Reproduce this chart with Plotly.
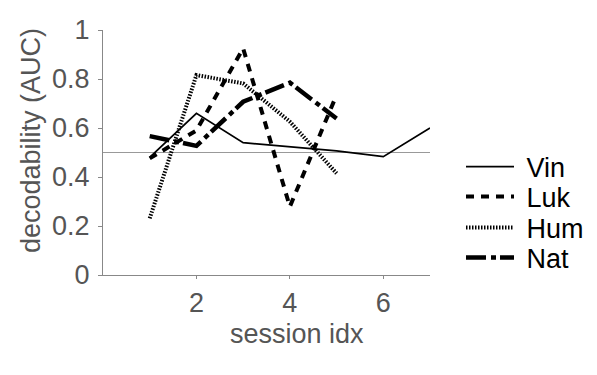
import plotly.graph_objects as go

sessions_vin = [1, 2, 3, 4, 5, 6, 7]
vin = [0.48, 0.66, 0.54, 0.525, 0.507, 0.483, 0.60]
sessions_5 = [1, 2, 3, 4, 5]
luk = [0.476, 0.59, 0.925, 0.279, 0.735]
hum = [0.231, 0.816, 0.782, 0.626, 0.415]
nat = [0.567, 0.527, 0.707, 0.785, 0.639]
chance = 0.5
y_ticks = [0, 0.2, 0.4, 0.6, 0.8, 1]
y_ticktext = ["0", "0.2", "0.4", "0.6", "0.8", "1"]
x_ticks = [2, 4, 6]
names = ["Vin", "Luk", "Hum", "Nat"]

FONT = "Liberation Sans, Arial, sans-serif"
GRAY = "#555555"
FS = 27
PAD = "\u00a0"

# page is offset by the browser's 8px body margin
OFF = 8
W, H = 597 - OFF, 375 - OFF
L, R, T, B = 95, 167, 22, 100
PW, PH = W - L - R, H - T - B


def px_to_paper(xp, yp):
    return (xp - OFF - L) / PW, (H - B - (yp - OFF)) / PH


fig = go.Figure()
fig.add_trace(go.Scatter(x=sessions_vin, y=vin, name=PAD + names[0], mode="lines",
                         line=dict(color="black", width=1.8), legend="legend"))
fig.add_trace(go.Scatter(x=sessions_5, y=luk, name=PAD + names[1], mode="lines",
                         line=dict(color="black", width=4, dash="8px,7px"), legend="legend2"))
fig.add_trace(go.Scatter(x=sessions_5, y=hum, name=PAD + names[2], mode="lines",
                         line=dict(color="black", width=4, dash="1.5px,1.5px"), legend="legend3"))
fig.add_trace(go.Scatter(x=sessions_5, y=nat, name=PAD + names[3], mode="lines",
                         line=dict(color="black", width=4.5, dash="20px,5px,5px,4px"), legend="legend4"))

fig.add_shape(type="line", xref="x", yref="y", x0=0, x1=7, y0=chance, y1=chance,
              line=dict(color="#999999", width=1.2), layer="below")

leg_y = [167, 197, 228, 258]
legends = {}
for i, yp in enumerate(leg_y):
    lx, ly = px_to_paper(461, yp)
    legends["legend" if i == 0 else f"legend{i+1}"] = dict(
        x=lx, y=ly, xanchor="left", yanchor="middle",
        font=dict(family=FONT, size=FS, color="black"),
        bgcolor="rgba(0,0,0,0)", itemwidth=48)

annos = []
for text, xp, yp, ang in [("session idx", 297, 334, 0), ("decodability (AUC)", 31, 141, -90)]:
    ax, ay = px_to_paper(xp, yp)
    annos.append(dict(text=text, x=ax, y=ay, xref="paper", yref="paper",
                      xanchor="center", yanchor="middle", showarrow=False,
                      textangle=ang, font=dict(size=FS, color=GRAY)))

fig.update_layout(
    width=W, height=H,
    margin=dict(l=L, r=R, t=T, b=B, autoexpand=False),
    paper_bgcolor="white", plot_bgcolor="white",
    font=dict(family=FONT, color=GRAY, size=FS),
    showlegend=True,
    xaxis=dict(range=[0, 7], tickvals=x_ticks, showgrid=False, zeroline=False,
               showline=True, linecolor="#888888", linewidth=1.2,
               ticks="outside", ticklen=3, tickcolor="#888888",
               tickfont=dict(size=FS, color=GRAY)),
    yaxis=dict(range=[0, 1], tickvals=y_ticks, ticktext=y_ticktext,
               showgrid=False, zeroline=False,
               showline=True, linecolor="#888888", linewidth=1.2,
               ticks="outside", ticklen=4, tickcolor="#888888",
               ticklabelstandoff=3,
               tickfont=dict(size=FS, color=GRAY)),
    annotations=annos,
    **legends,
)

fig.write_html("out.html")
